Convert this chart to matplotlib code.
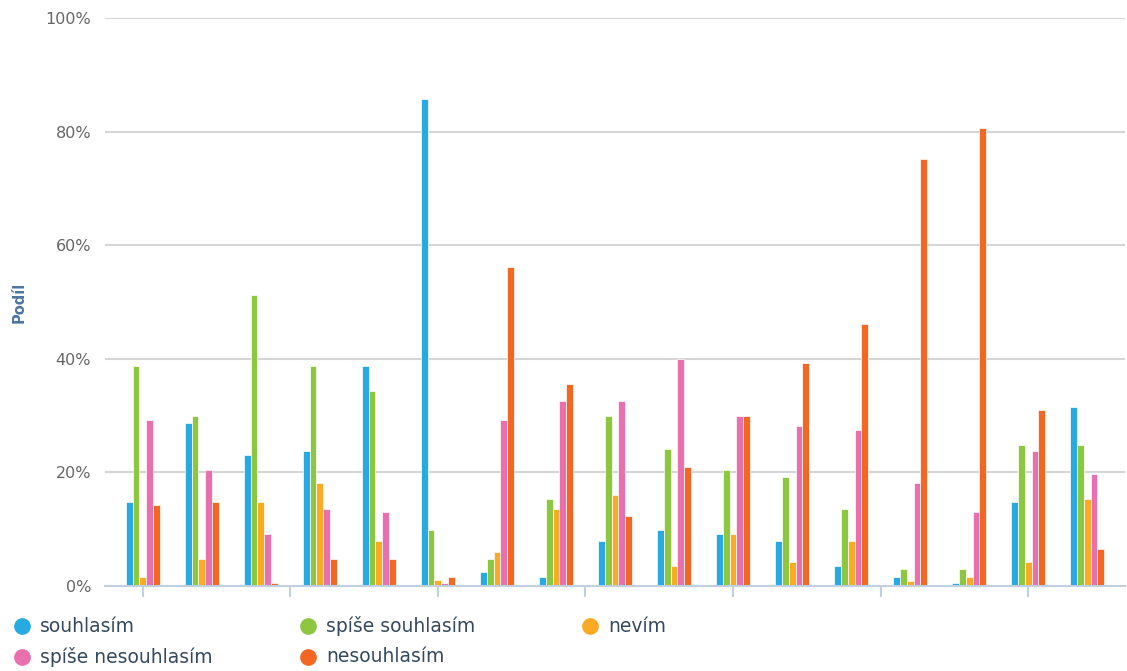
import numpy as np
import matplotlib.pyplot as plt
from matplotlib.lines import Line2D

# Podíl odpovědí (%) pro 17 otázek
labels = ["souhlasím", "spíše souhlasím", "nevím", "spíše nesouhlasím", "nesouhlasím"]
colors = ["#27aae1", "#8dc63f", "#fbaa26", "#e96fad", "#f26723"]

souhlasim = [14.8, 28.7, 23.1, 23.7, 38.7, 85.7, 2.4, 1.5, 8.0, 9.8, 9.2, 8.0, 3.6, 1.5, 0.5, 14.8, 31.6]
spise_souhlasim = [38.7, 29.9, 51.2, 38.7, 34.3, 9.8, 4.8, 15.4, 29.9, 24.2, 20.4, 19.2, 13.6, 3.0, 3.0, 24.8, 24.8]
nevim = [1.5, 4.8, 14.8, 18.1, 8.0, 1.0, 6.0, 13.6, 16.0, 3.6, 9.2, 4.2, 8.0, 0.9, 1.5, 4.2, 15.4]
spise_nesouhlasim = [29.3, 20.4, 9.2, 13.6, 13.0, 0.5, 29.3, 32.5, 32.5, 39.9, 29.9, 28.1, 27.5, 18.1, 13.0, 23.7, 19.8]
nesouhlasim = [14.3, 14.8, 0.5, 4.8, 4.8, 1.5, 56.1, 35.5, 12.4, 21.0, 29.9, 39.3, 46.1, 75.1, 80.6, 31.0, 6.5]

series = [souhlasim, spise_souhlasim, nevim, spise_nesouhlasim, nesouhlasim]

fig = plt.figure(figsize=(11.27, 6.71), dpi=100)
ax = fig.add_axes([105 / 1127, 85 / 671, 1020 / 1127, 568 / 671])

x = np.arange(len(souhlasim))
w = 0.116
for i, (vals, c) in enumerate(zip(series, colors)):
    ax.bar(x + (i - 2) * w, vals, width=w, color=c, edgecolor="white",
           linewidth=0.5, zorder=3)

ax.set_xlim(-0.64, 16.64)
ax.set_ylim(0, 100)
ax.set_yticks(range(0, 101, 20))
ax.set_yticklabels([f"{v}%" for v in range(0, 101, 20)])
ax.set_xticks(np.arange(0, 16, 2.5))
ax.set_xticklabels([])

ax.grid(axis="y", color="#d6d6d6", linewidth=1.5, zorder=0)
for s in ["top", "right", "left"]:
    ax.spines[s].set_visible(False)
ax.spines["bottom"].set_color("#c0d0e0")
ax.spines["bottom"].set_linewidth(1.5)
ax.spines["bottom"].set_zorder(4)
ax.tick_params(axis="x", length=8, width=1.5, color="#c0d0e0", direction="out")
ax.tick_params(axis="y", length=0, pad=10, labelsize=11.5, labelcolor="#666666")

fig.text(19 / 1127, 1 - 302 / 671, "Podíl", rotation=90, ha="center", va="center",
         fontsize=10.5, fontweight="bold", color="#4d759e")

# legenda
pos = [(22, 626), (308, 626), (590, 626), (22, 657), (308, 657)]
for (px, py), lab, c in zip(pos, labels, colors):
    fx, fy = px / 1127, 1 - py / 671
    fig.add_artist(Line2D([fx], [fy], marker="o", markersize=11, color=c,
                          linestyle="none", transform=fig.transFigure))
    fig.text(fx + 18 / 1127, fy, lab, ha="left", va="center",
             fontsize=13.5, color="#34495e")

fig.savefig("out.png", dpi=100)
